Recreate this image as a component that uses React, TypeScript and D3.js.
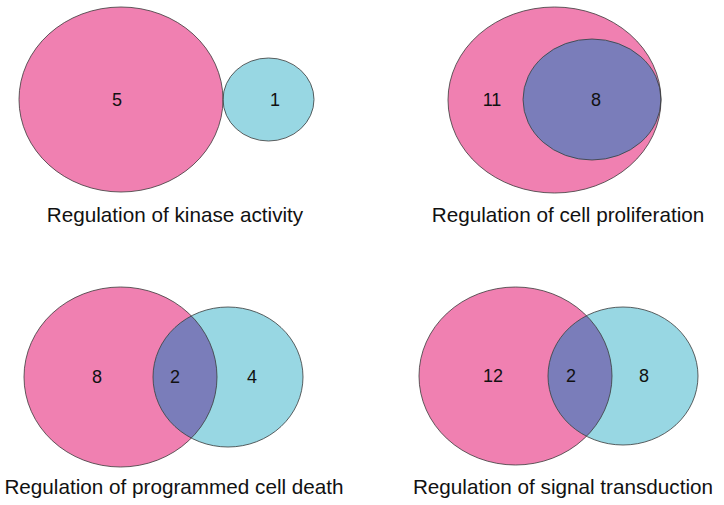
import React from "react";
import * as d3 from "d3";

// ---- data ----
const titles = [
  "Regulation of kinase activity",
  "Regulation of cell proliferation",
  "Regulation of programmed cell death",
  "Regulation of signal transduction",
];
const leftOnly = [5, 11, 8, 12];
const overlap = [0, 8, 2, 2];
const rightOnly = [1, 0, 4, 8];

// ---- layout (positions / sizes, not data) ----
type Ell = { cx: number; cy: number; rx: number; ry: number };
const leftEll: Ell[] = [
  { cx: 121, cy: 99.5, rx: 102, ry: 92.5 },
  { cx: 554.5, cy: 100, rx: 106.5, ry: 93 },
  { cx: 120.5, cy: 377, rx: 96.5, ry: 90 },
  { cx: 515.5, cy: 376, rx: 96.5, ry: 89 },
];
const rightEll: Ell[] = [
  { cx: 268.5, cy: 99.5, rx: 45.5, ry: 41.5 },
  { cx: 592, cy: 99.5, rx: 69, ry: 60.5 },
  { cx: 228, cy: 377, rx: 75, ry: 70 },
  { cx: 623, cy: 376, rx: 75, ry: 69 },
];
// label x positions [leftOnly, overlap, rightOnly]
const labelX = [
  [117, null, 275],
  [492, 596, null],
  [97, 175, 252],
  [493, 571, 644],
];
const titleX = [175, 568, 174, 563];
const titleY = [222, 222, 494, 494];

const PINK = "#F080B1";
const BLUE = "#98D7E3";
const OVER = "#7A7DBA";
const STROKE = "#3a3a3a";
const FONT = "'Liberation Sans', Arial, Helvetica, sans-serif";

export default function App() {
  const W = 724,
    H = 505;
  const fmt = d3.format("d");
  return (
    <svg
      width={W}
      height={H}
      style={{ position: "absolute", left: 0, top: 0, background: "#fff" }}
    >
      <defs>
        {rightEll.map((e, i) => (
          <clipPath id={`clipR${i}`} key={i}>
            <ellipse cx={e.cx} cy={e.cy} rx={e.rx} ry={e.ry} />
          </clipPath>
        ))}
      </defs>
      {titles.map((t, i) => {
        const L = leftEll[i];
        const R = rightEll[i];
        const vals = [leftOnly[i], overlap[i], rightOnly[i]];
        const labelY = L.cy + 6.3;
        return (
          <g key={i}>
            <ellipse cx={L.cx} cy={L.cy} rx={L.rx} ry={L.ry} fill={PINK} />
            <ellipse cx={R.cx} cy={R.cy} rx={R.rx} ry={R.ry} fill={BLUE} />
            <ellipse
              cx={L.cx}
              cy={L.cy}
              rx={L.rx}
              ry={L.ry}
              fill={OVER}
              clipPath={`url(#clipR${i})`}
            />
            <ellipse
              cx={L.cx}
              cy={L.cy}
              rx={L.rx}
              ry={L.ry}
              fill="none"
              stroke={STROKE}
              strokeWidth={0.8}
            />
            <ellipse
              cx={R.cx}
              cy={R.cy}
              rx={R.rx}
              ry={R.ry}
              fill="none"
              stroke={STROKE}
              strokeWidth={0.8}
            />
            {vals.map((v, k) =>
              labelX[i][k] == null ? null : (
                <text
                  key={k}
                  x={labelX[i][k] as number}
                  y={labelY}
                  textAnchor="middle"
                  fontFamily={FONT}
                  fontSize={18}
                  fill="#111"
                >
                  {fmt(v)}
                </text>
              )
            )}
            <text
              x={titleX[i]}
              y={titleY[i]}
              textAnchor="middle"
              fontFamily={FONT}
              fontSize={20.7}
              fill="#111"
            >
              {t}
            </text>
          </g>
        );
      })}
    </svg>
  );
}
